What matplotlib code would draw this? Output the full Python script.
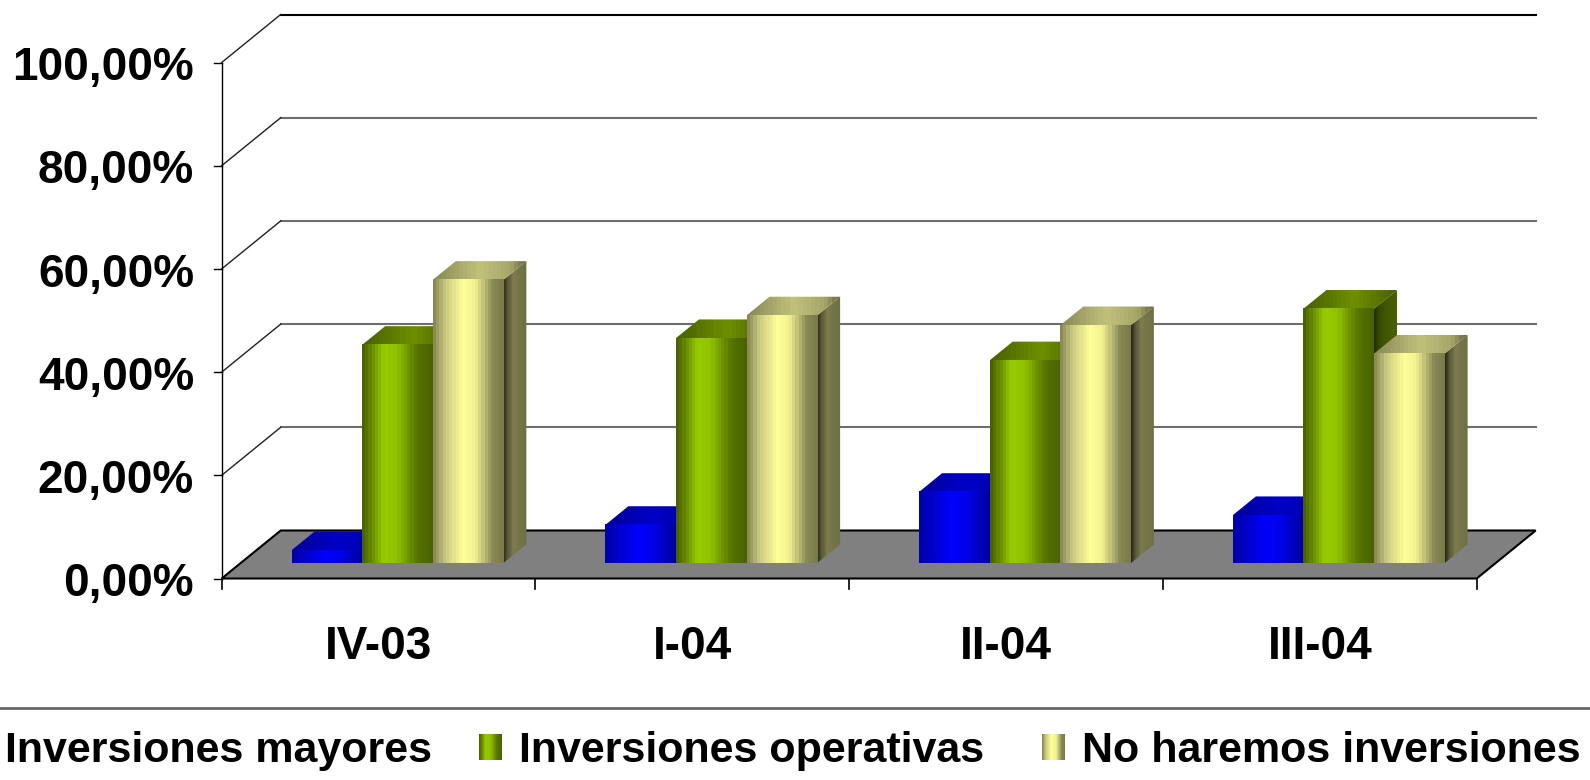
import numpy as np
import matplotlib

matplotlib.use("Agg")
import matplotlib.pyplot as plt
from matplotlib.colors import LinearSegmentedColormap
from matplotlib.patches import Polygon

plt.rcParams["font.family"] = ["Liberation Sans", "DejaVu Sans"]

# ── datos (porcentaje de empresas) ──
periodos = ["IV-03", "I-04", "II-04", "III-04"]
series = ["Inversiones mayores", "Inversiones operativas", "No haremos inversiones"]
mayores = [2.5, 7.4, 13.8, 9.3]
operativas = [42.3, 43.6, 39.3, 49.3]
no_invierte = [54.9, 48.0, 46.1, 40.6]
y_ticks = [0, 20, 40, 60, 80, 100]

# ── geometría en píxeles del lienzo (1590x780) ──
X0_PX, CAT_PX = 221.7, 313.75      # eje frontal: x=0 y ancho de una categoría
Y0_PX, PCT_PX = 578.5, 5.16        # línea 0% y píxeles por punto porcentual
DEPTH_PX = (59.0, 48.0)            # desplazamiento oblicuo del fondo


def px2x(px):
    return (px - X0_PX) / CAT_PX


def px2y(py):
    return (Y0_PX - py) / PCT_PX


DX = DEPTH_PX[0] / CAT_PX
DY = DEPTH_PX[1] / PCT_PX
BAR_W = 0.225
F0, FD = 0.32, 0.39     # posición y profundidad de las barras dentro del suelo


def cmap(stops):
    return LinearSegmentedColormap.from_list("g", stops)


# degradados frente / tapa / lateral por serie
FRONT = [
    cmap([(0, "#0000a8"), (0.45, "#0000ff"), (0.7, "#0000e6"), (1, "#0000a0")]),
    cmap([(0, "#4a6200"), (0.3, "#99cc00"), (0.5, "#90c000"), (0.78, "#587600"), (1, "#4a6200")]),
    cmap([(0, "#8a8a56"), (0.15, "#c8c880"), (0.42, "#ffff99"), (0.6, "#f2f292"), (0.86, "#8a8a58"), (1, "#7a7a4a")]),
]
TOP = [
    cmap([(0, "#00009a"), (0.5, "#0000c8"), (1, "#0000a0")]),
    cmap([(0, "#4a6000"), (0.55, "#6f9000"), (1, "#4a6000")]),
    cmap([(0, "#8a8a58"), (0.5, "#c2c27c"), (0.85, "#a4a468"), (1, "#6c6c44")]),
]
SIDE = [
    cmap([(0, "#000060"), (1, "#000090")]),
    cmap([(0, "#223000"), (0.3, "#3d5200"), (1, "#4a6200")]),
    cmap([(0, "#2a2a18"), (0.2, "#5a5a38"), (0.4, "#7c7c4e"), (1, "#6e6e44")]),
]
GRAD = np.linspace(0, 1, 22).reshape(1, -1)

fig = plt.figure(figsize=(15.9, 7.8), dpi=100)
ax = fig.add_axes([0, 0, 1, 1])
ax.axis("off")


def shade(cm, xs, ys, z, poly=None):
    im = ax.imshow(GRAD, cmap=cm, extent=(min(xs), max(xs), min(ys), max(ys)),
                   aspect="auto", interpolation="nearest", origin="lower", zorder=z)
    if poly is not None:
        p = Polygon(poly, closed=True, fc="none", ec="none", zorder=z)
        ax.add_patch(p)
        im.set_clip_path(p)


# paredes: rejilla del fondo y diagonales del lateral
for v in y_ticks[1:]:
    col = "black" if v == 100 else "#6e6e6e"
    ax.plot([DX, 4 + DX], [v + DY, v + DY], color=col, lw=1.5, zorder=1)
    ax.plot([0, DX], [v, v + DY], color="#202020", lw=1.0, zorder=1)

# eje vertical frontal
ax.plot([0, 0], [0, 100], color="black", lw=1.0, zorder=2)
for v in y_ticks:
    ax.plot([px2x(X0_PX - 8), 0], [v, v], color="black", lw=1.0, zorder=2)
    ax.text(px2x(194), v - 17.7 / PCT_PX, f"{v:.2f}%".replace(".", ","),
            ha="right", va="baseline", fontsize=33, fontweight="bold")

# suelo
ax.add_patch(Polygon([(0, 0), (4, 0), (4 + DX, DY), (DX, DY)], closed=True,
                     fc="#808080", ec="black", lw=1.5, zorder=2))
for i in range(5):
    ax.plot([i, i], [0, -10 / PCT_PX], color="black", lw=1.2, zorder=2)

# barras 3D
z = 3
for i, per in enumerate(periodos):
    for j, vals in enumerate([mayores, operativas, no_invierte]):
        v = vals[i]
        xl = i + 0.5 + F0 * DX - 1.5 * BAR_W + j * BAR_W
        xr = xl + BAR_W
        base = F0 * DY
        top = base + v
        bdx, bdy = FD * DX, FD * DY
        side = [(xr, base), (xr + bdx, base + bdy), (xr + bdx, top + bdy), (xr, top)]
        lid = [(xl, top), (xr, top), (xr + bdx, top + bdy), (xl + bdx, top + bdy)]
        shade(SIDE[j], [xr, xr + bdx], [base, top + bdy], z, side)
        shade(TOP[j], [xl, xr + bdx], [top, top + bdy], z + 0.1, lid)
        shade(FRONT[j], [xl, xr], [base, top], z + 0.2)
        z += 1
    ax.text(i + 0.5, px2y(659), per, ha="center", va="baseline",
            fontsize=33, fontweight="bold")

# separador y leyenda
ax.plot([px2x(0), px2x(1590)], [px2y(707.5)] * 2, color="#606060", lw=1.9, zorder=2)
ley_x = [5, 519, 1082]
for k, (name, lx) in enumerate(zip(series, ley_x)):
    if k > 0:
        shade(FRONT[k], [px2x(lx - 40), px2x(lx - 17)], [px2y(760), px2y(734)], 50)
    ax.text(px2x(lx), px2y(762), name, ha="left", va="baseline",
            fontsize=31, fontweight="bold")

ax.set_xlim(px2x(0), px2x(1590))
ax.set_ylim(px2y(780), px2y(0))
fig.savefig("out.png", dpi=100)
